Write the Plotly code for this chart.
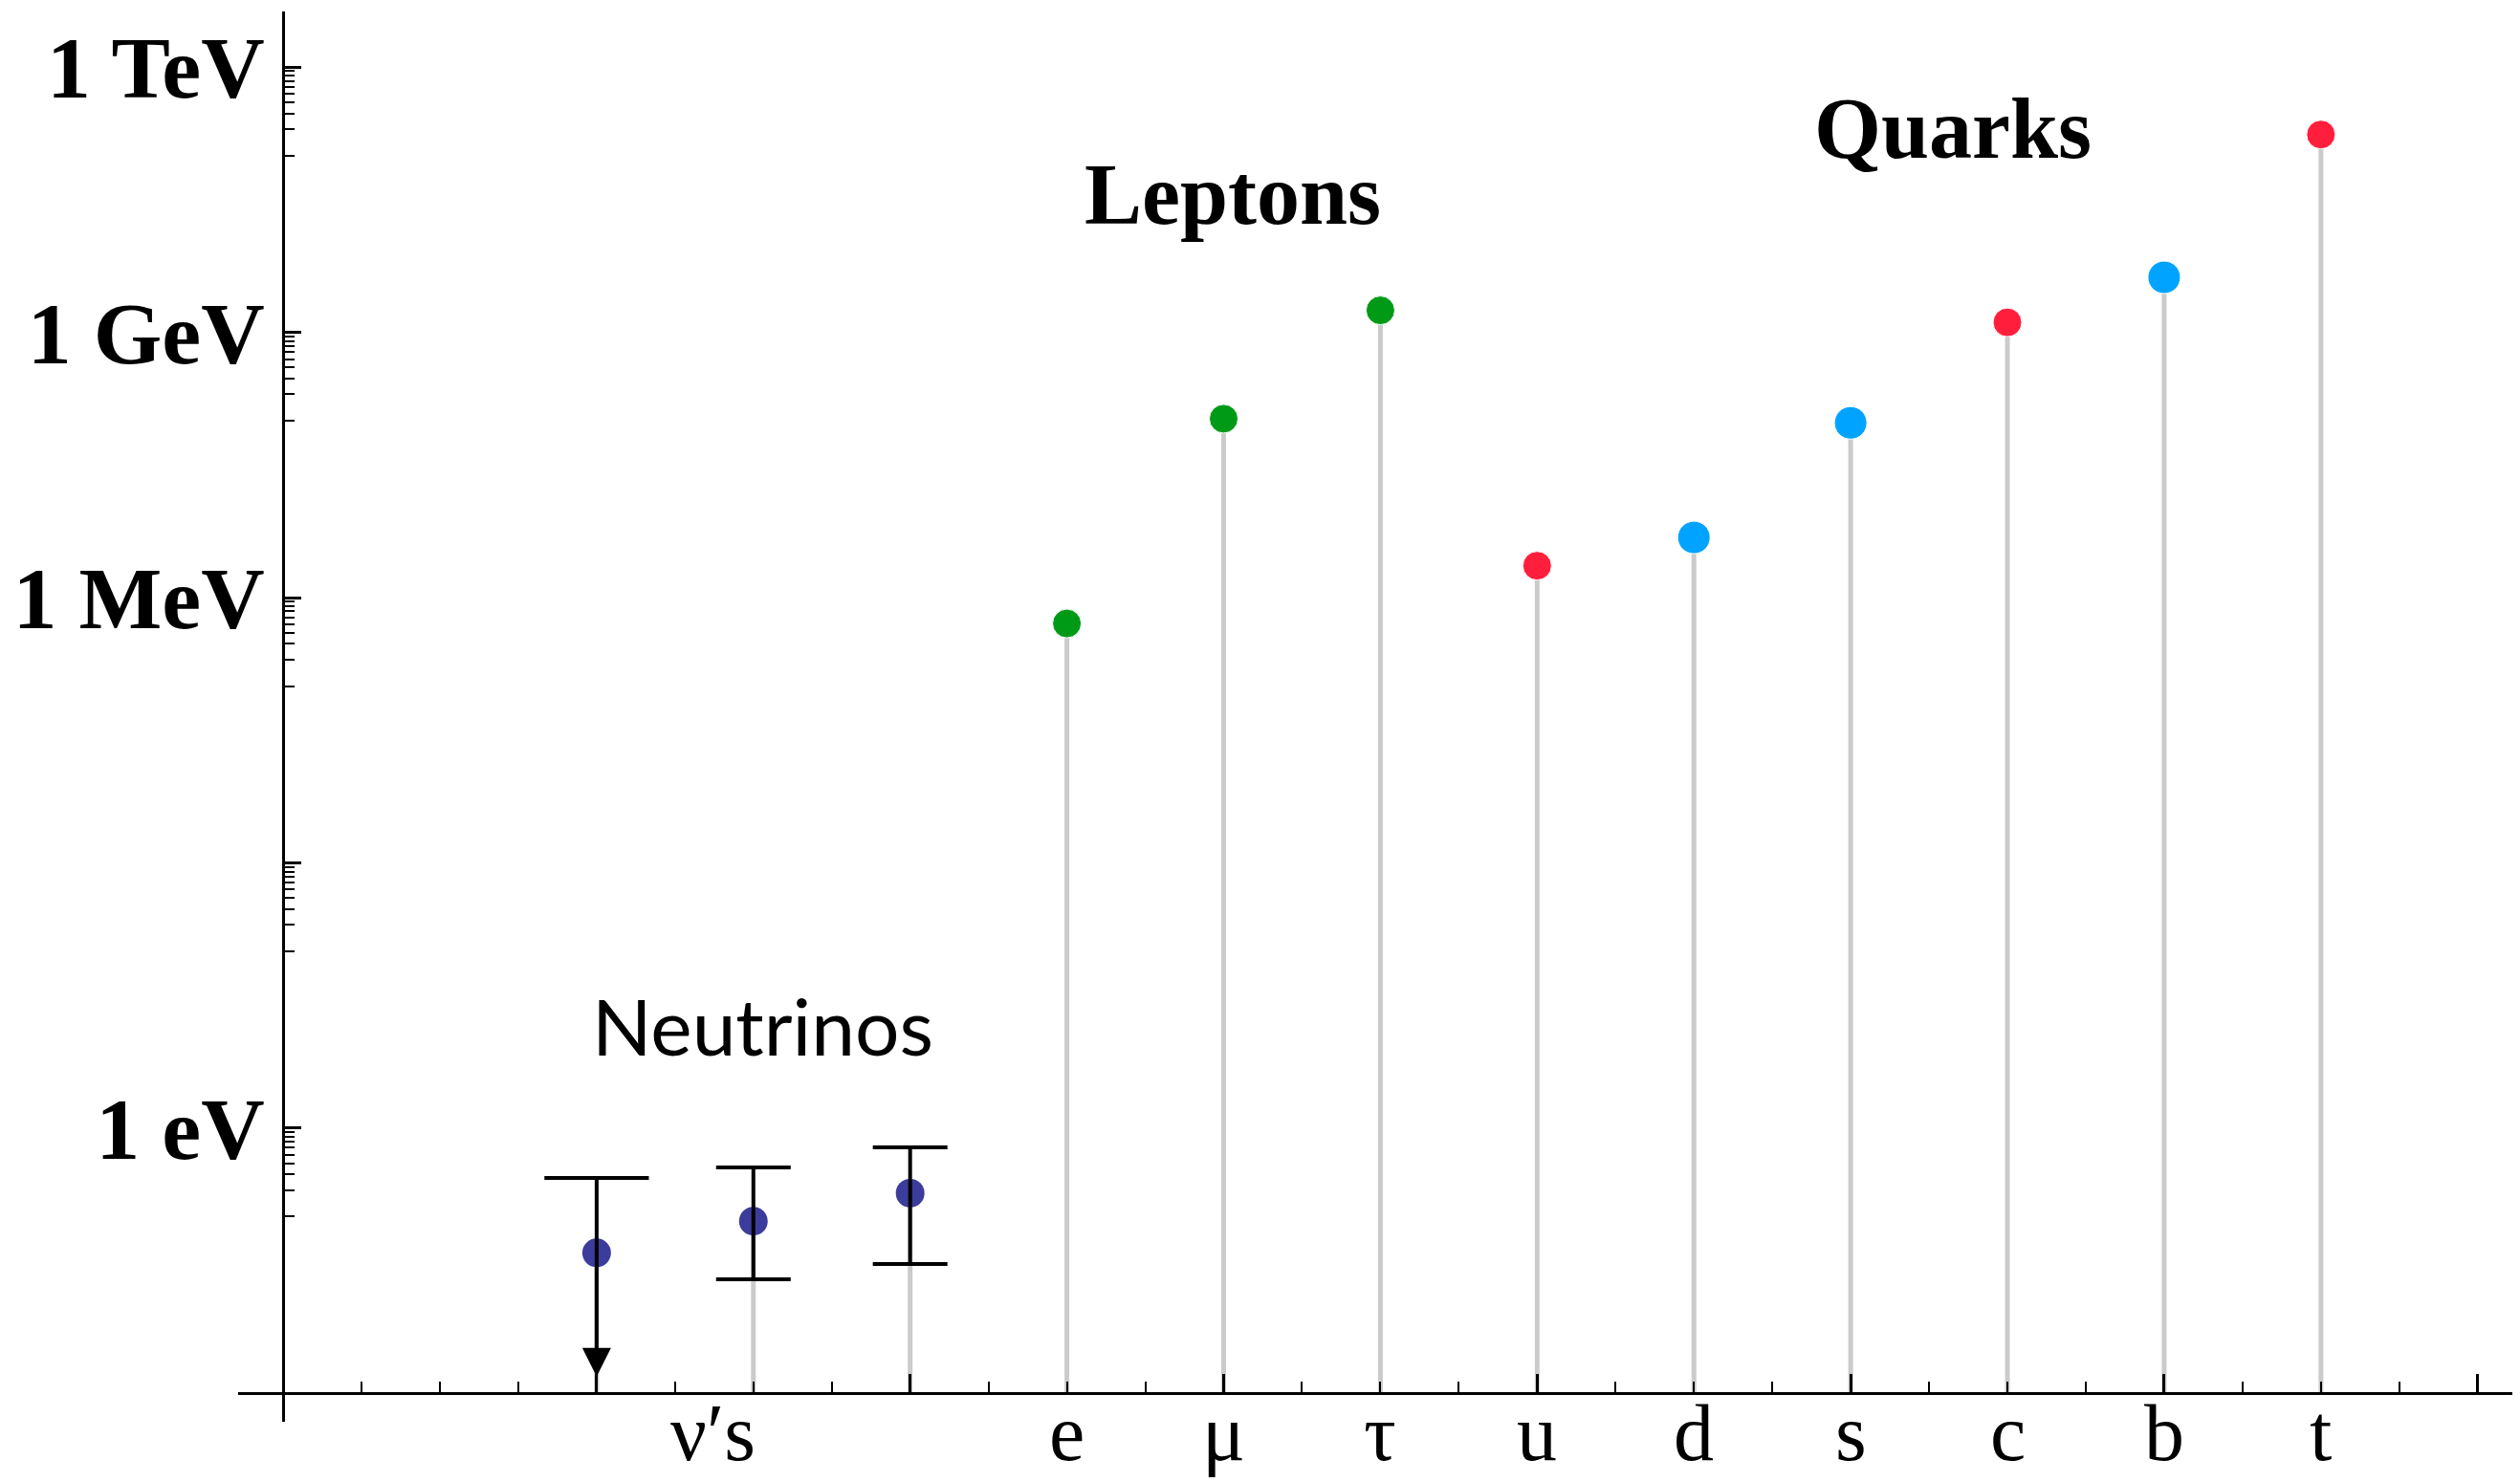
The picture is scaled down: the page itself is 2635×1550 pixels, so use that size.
import numpy as np
import plotly.graph_objects as go

# ---------------- data ----------------
nu_x = [2, 3, 4]
nu_mass = [0.039, 0.089, 0.184]          # eV
nu_upper = [0.274, 0.360, 0.608]         # eV
nu_lower = [None, 0.0196, 0.0292]        # eV (nu1: upper limit only)
nu1_arrow_tip = 0.00155                  # eV

fermion_names = ["e", "μ", "τ", "u", "d", "s", "c", "b", "t"]
fermion_x = [5, 6, 7, 8, 9, 10, 11, 12, 13]
fermion_mass = [5.11e5, 1.057e8, 1.777e9, 2.3e6, 4.8e6, 9.5e7, 1.3e9, 4.2e9, 1.73e11]  # eV
fermion_group = ["lepton", "lepton", "lepton", "up", "down", "down", "up", "down", "up"]

nu_label = "ν′s"
nu_label_x = 2.74

group_labels = ["Neutrinos", "Leptons", "Quarks"]
group_label_x = [3.06, 6.06, 10.65]
group_label_y = [14.8, 3.6e10, 2.0e11]   # eV

ytick_vals = [1, 1e3, 1e6, 1e9, 1e12]
ytick_text = ["1 eV", "", "1 MeV", "1 GeV", "1 TeV"]
ytick_minor = [k * 10.0 ** (n - 1) for n in (0, 3, 6, 9, 12) for k in range(1, 10)]

xtick_major = [2, 4, 6, 8, 10, 12, 14]
xtick_minor = [v / 2 for v in range(1, 29) if (v / 2) not in xtick_major]

x_range = [-0.287, 14.27]
y_range_log = [-3.32, 12.63]
axis_cross_y = 1e-3
axis_cross_x = 0

# ---------------- styles ----------------
colors = {"lepton": "#009A17", "up": "#FF1F3D", "down": "#00A3FF"}
sizes = {"lepton": 30, "up": 30, "down": 34}
nu_color = "#3C3C9C"
stem_color = "#CBCBCB"
serif = "Liberation Serif"

fig = go.Figure()

# stems
all_x = nu_x + fermion_x
all_m = nu_mass + fermion_mass
sx, sy = [], []
for xv, mv in zip(all_x, all_m):
    sx += [xv, xv, None]
    sy += [axis_cross_y, mv, None]
fig.add_trace(go.Scatter(x=sx, y=sy, mode="lines",
                         line=dict(color=stem_color, width=5),
                         hoverinfo="skip", showlegend=False))

# neutrino points
fig.add_trace(go.Scatter(x=nu_x, y=nu_mass, mode="markers",
                         marker=dict(color=nu_color, size=30, opacity=1),
                         showlegend=False))

# neutrino error bars (nu2, nu3) drawn over the points
eb_x = nu_x[1:]
eb_y = nu_mass[1:]
eb_up = [u - m for u, m in zip(nu_upper[1:], nu_mass[1:])]
eb_dn = [m - l for m, l in zip(nu_mass[1:], nu_lower[1:])]
fig.add_trace(go.Scatter(x=eb_x, y=eb_y, mode="markers",
                         marker=dict(color="rgba(0,0,0,0)", size=1),
                         error_y=dict(type="data", symmetric=False, array=eb_up,
                                      arrayminus=eb_dn, width=39, thickness=4,
                                      color="black"),
                         hoverinfo="skip", showlegend=False))

# nu1 upper-limit cap
fig.add_trace(go.Scatter(x=[nu_x[0]], y=[nu_upper[0]], mode="markers",
                         marker=dict(symbol="line-ew", size=78, opacity=1,
                                     line=dict(width=4, color="black")),
                         hoverinfo="skip", showlegend=False))

# fermion points
fig.add_trace(go.Scatter(x=fermion_x, y=fermion_mass, mode="markers",
                         marker=dict(color=[colors[g] for g in fermion_group],
                                     size=[sizes[g] for g in fermion_group],
                                     opacity=1),
                         showlegend=False))

annotations = []
# nu1 arrow
annotations.append(dict(x=nu_x[0], y=np.log10(nu1_arrow_tip), ax=nu_x[0],
                        ay=np.log10(nu_upper[0]), xref="x", yref="y",
                        axref="x", ayref="y", showarrow=True, arrowhead=2,
                        arrowsize=1.5, arrowwidth=4, arrowcolor="black", text=""))

xaxis_pos = (np.log10(axis_cross_y) - y_range_log[0]) / (y_range_log[1] - y_range_log[0])
yaxis_pos = (axis_cross_x - x_range[0]) / (x_range[1] - x_range[0])

label_font = dict(family=serif, size=84, color="black")
# x labels
for name, xv in zip(fermion_names, fermion_x):
    annotations.append(dict(x=xv, y=xaxis_pos, xref="x", yref="paper",
                            text=name, showarrow=False, yanchor="top",
                            xanchor="center", yshift=7, font=label_font))
annotations.append(dict(x=nu_label_x, y=xaxis_pos, xref="x", yref="paper",
                        text=nu_label, showarrow=False, yanchor="top",
                        xanchor="center", yshift=7, font=label_font))

# group labels
group_fonts = [dict(family="Lato", size=82, color="black"),
               dict(family=serif, size=90, color="black", weight="bold"),
               dict(family=serif, size=90, color="black", weight="bold")]
for txt, xv, yv, fnt in zip(group_labels, group_label_x, group_label_y, group_fonts):
    annotations.append(dict(x=xv, y=np.log10(yv), xref="x", yref="y", text=txt,
                            showarrow=False, xanchor="center", yanchor="middle",
                            font=fnt))

# page body adds an 8px offset; compensate in figure size / margins
fig.update_layout(
    width=2627, height=1542,
    margin=dict(l=241, r=0, t=4, b=63, pad=0),
    paper_bgcolor="white", plot_bgcolor="white",
    showlegend=False,
    annotations=annotations,
    xaxis=dict(range=x_range, anchor="free", position=xaxis_pos,
               showgrid=False, zeroline=False, showline=True,
               linecolor="black", linewidth=3,
               ticks="inside", ticklen=19, tickwidth=2.5, tickcolor="black",
               tickmode="array", tickvals=xtick_major, showticklabels=False,
               minor=dict(ticks="inside", ticklen=11, tickwidth=2,
                          tickcolor="black", tickmode="array",
                          tickvals=xtick_minor, showgrid=False)),
    yaxis=dict(type="log", range=y_range_log, anchor="free", position=yaxis_pos,
               showgrid=False, zeroline=False, showline=True,
               linecolor="black", linewidth=3,
               ticks="inside", ticklen=17, tickwidth=3, tickcolor="black",
               tickmode="array", tickvals=ytick_vals, ticktext=ytick_text,
               tickfont=dict(family=serif, size=92, color="black", weight="bold"),
               ticklabelstandoff=0,
               minor=dict(ticks="inside", ticklen=10, tickwidth=2,
                          tickcolor="black", tickmode="array",
                          tickvals=ytick_minor, showgrid=False)),
)

fig.write_html("out.html")
